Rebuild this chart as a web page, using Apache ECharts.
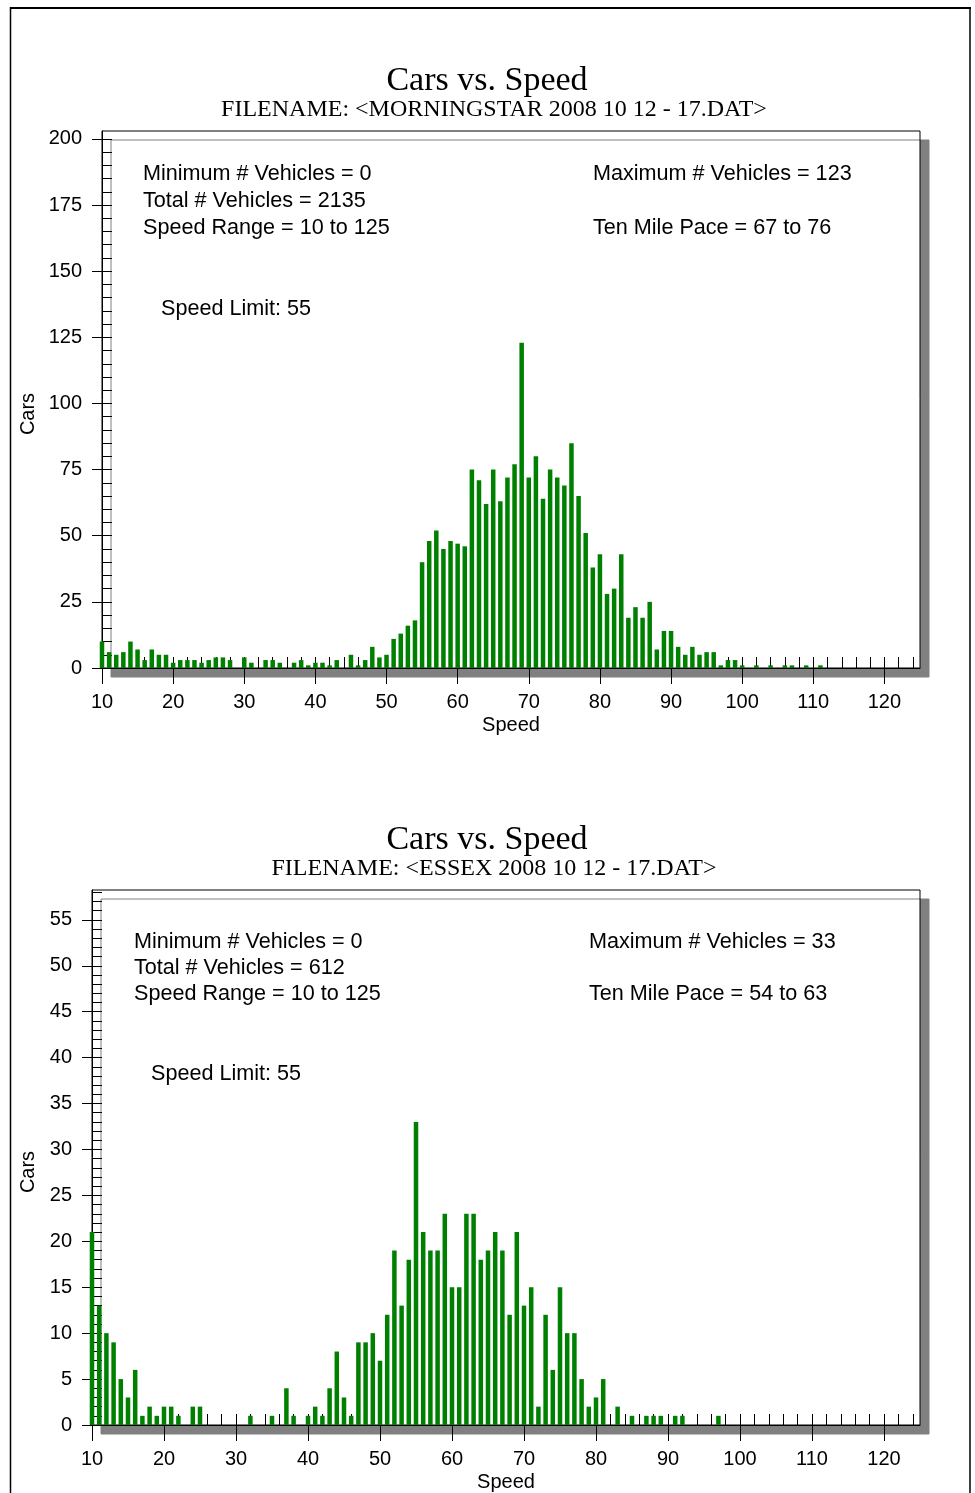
<!DOCTYPE html>
<html><head><meta charset="utf-8">
<script src="https://cdn.jsdelivr.net/npm/echarts@6/dist/echarts.min.js"></script>
<style>html,body{margin:0;padding:0;background:#fff}#c{width:975px;height:1493px}</style>
</head><body><div id="c"></div><script>
// Speed categories (mph)
const speeds = [10,11,12,13,14,15,16,17,18,19,20,21,22,23,24,25,26,27,28,29,30,31,32,33,34,35,36,37,38,39,
  40,41,42,43,44,45,46,47,48,49,50,51,52,53,54,55,56,57,58,59,60,61,62,63,64,65,66,67,68,69,
  70,71,72,73,74,75,76,77,78,79,80,81,82,83,84,85,86,87,88,89,90,91,92,93,94,95,96,97,98,99,
  100,101,102,103,104,105,106,107,108,109,110,111,112,113,114,115,116,117,118,119,120,121,122,123,124,125];
// Cars per speed — MORNINGSTAR
const carsMorningstar = [10,6,5,6,10,7,3,7,5,5, 2,3,3,3,2,3,4,4,3,0, 4,2,0,3,3,2,0,2,3,1,
  2,2,1,3,0,5,1,3,8,4, 5,11,13,16,18,40,48,52,45,48, 47,46,75,71,62,75,63,72,77,123,
  72,80,64,75,72,69,85,65,51,38, 43,28,30,43,19,23,19,25,7,14, 14,8,5,8,5,6,6,1,3,3,
  1,0,1,0,1,0,1,1,0,1, 0,1,0,0,0,0,0,0,0,0, 0,0,0,0,0,0];
// Cars per speed — ESSEX
const carsEssex = [21,13,10,9,5,3,6,1,2,1, 2,2,1,0,2,2,0,0,0,0, 0,0,1,0,0,1,0,4,1,0,
  1,2,1,4,8,3,1,9,9,10, 7,12,19,13,18,33,21,19,19,23, 15,15,23,23,18,19,21,19,12,21,
  13,15,2,12,6,15,10,10,5,2, 3,5,0,2,0,1,0,1,1,1, 0,1,1,0,0,0,0,1,0,0,
  0,0,0,0,0,0,0,0,0,0, 0,0,0,0,0,0,0,0,0,0, 0,0,0,0,0,0];
// Tick labels / tick positions
const xTickLabels = [10,20,30,40,50,60,70,80,90,100,110,120];
const xMinorTicks = [10,12,14,16,18,20,22,24,26,28,30,32,34,36,38,40,42,44,46,48,50,52,54,56,58,60,62,64,66,68,
  70,72,74,76,78,80,82,84,86,88,90,92,94,96,98,100,102,104,106,108,110,112,114,116,118,120,122,124];
const yTickLabelsTop = [0,25,50,75,100,125,150,175,200];
const yMinorTop = [0,5,10,15,20,25,30,35,40,45,50,55,60,65,70,75,80,85,90,95,100,105,110,115,120,125,130,135,140,145,150,155,160,165,170,175,180,185,190,195,200];
const yTickLabelsBottom = [0,5,10,15,20,25,30,35,40,45,50,55];
const yMinorBottom = [0,1,2,3,4,5,6,7,8,9,10,11,12,13,14,15,16,17,18,19,20,21,22,23,24,25,26,27,28,29,30,31,32,33,34,35,36,37,38,39,40,41,42,43,44,45,46,47,48,49,50,51,52,53,54,55,56,57,58];
// Texts
const titleText = 'Cars vs. Speed';
const fileTop = 'FILENAME: <MORNINGSTAR 2008 10 12 - 17.DAT>';
const fileBottom = 'FILENAME: <ESSEX 2008 10 12 - 17.DAT>';
const statsTop = ['Minimum # Vehicles = 0','Total # Vehicles = 2135','Speed Range = 10 to 125','Maximum # Vehicles = 123','Ten Mile Pace = 67 to 76','Speed Limit: 55'];
const statsBottom = ['Minimum # Vehicles = 0','Total # Vehicles = 612','Speed Range = 10 to 125','Maximum # Vehicles = 33','Ten Mile Pace = 54 to 63','Speed Limit: 55'];

const SANS = 'Liberation Sans, Arial, sans-serif';
const SERIF = 'Liberation Serif, Times New Roman, serif';
const chart = echarts.init(document.getElementById('c'), null, {renderer:'canvas'});

function gridOpt(left, top, bottom){
  return {left:left, right:55, top:top, bottom:bottom, show:true, backgroundColor:'#fff',
    borderColor:'#000', borderWidth:1, shadowColor:'#808080', shadowOffsetX:9, shadowOffsetY:9, shadowBlur:0};
}
function xMain(gi){
  return {gridIndex:gi, type:'value', min:10, max:125, interval:10, position:'bottom',
    axisLine:{show:true, onZero:false, lineStyle:{color:'#000', width:1}},
    axisTick:{show:true, inside:false, length:16, customValues:xTickLabels, lineStyle:{color:'#000', width:1}},
    axisLabel:{show:true, customValues:xTickLabels, margin:24, fontSize:20, fontFamily:SANS, color:'#000'},
    splitLine:{show:false},
    name:'Speed', nameLocation:'middle', nameGap:47, nameTextStyle:{fontSize:20, fontFamily:SANS, color:'#000'}};
}
function xMinor(gi){
  return {gridIndex:gi, type:'value', min:10, max:125, interval:2, position:'bottom',
    axisLine:{show:false}, axisLabel:{show:false}, splitLine:{show:false},
    axisTick:{show:true, inside:true, length:11, customValues:xMinorTicks, lineStyle:{color:'#000', width:1}}};
}
function yMain(gi, max, interval, labels){
  return {gridIndex:gi, type:'value', min:0, max:max, interval:interval, position:'left',
    axisLine:{show:true, onZero:false, lineStyle:{color:'#000', width:1}},
    axisTick:{show:true, inside:false, length:10, customValues:labels, lineStyle:{color:'#000', width:1}},
    axisLabel:{show:true, customValues:labels, margin:20, fontSize:20, fontFamily:SANS, color:'#000'},
    splitLine:{show:false}};
}
function yMinor(gi, max, interval, ticks){
  return {gridIndex:gi, type:'value', min:0, max:max, interval:interval, position:'left',
    axisLine:{show:false}, axisLabel:{show:false}, splitLine:{show:false},
    axisTick:{show:true, inside:true, length:10, customValues:ticks, lineStyle:{color:'#000', width:1}}};
}
function txt(x, y, s, size, family, align){
  return {type:'text', x:x, y:y, silent:true, z:100,
    style:{text:s, fill:'#000', font:size+'px '+family, textAlign:align||'left', textVerticalAlign:'middle'}};
}
function statTexts(list, xl, xr, y0, dy, xs, ys){
  const f = 21.6;
  return [txt(xl, y0, list[0], f, SANS), txt(xl, y0+dy, list[1], f, SANS), txt(xl, y0+2*dy, list[2], f, SANS),
    txt(xr, y0, list[3], f, SANS), txt(xr, y0+2*dy, list[4], f, SANS), txt(xs, ys, list[5], f, SANS)];
}

const graphics = [
  {type:'line', shape:{x1:10, y1:8, x2:971, y2:8}, style:{stroke:'#000', lineWidth:2}, silent:true},
  {type:'line', shape:{x1:10.5, y1:7, x2:10.5, y2:1493}, style:{stroke:'#000', lineWidth:1.5}, silent:true},
  {type:'line', shape:{x1:970, y1:7, x2:970, y2:1493}, style:{stroke:'#000', lineWidth:1.5}, silent:true},
  txt(487, 81.5, titleText, 34, SERIF, 'center'),
  txt(494, 110, fileTop, 24, SERIF, 'center'),
  txt(487, 840.5, titleText, 34, SERIF, 'center'),
  txt(494, 869, fileBottom, 24, SERIF, 'center'),
  {type:'text', x:28, y:414, rotation:Math.PI/2, silent:true, z:100,
    style:{text:'Cars', fill:'#000', font:'20px '+SANS, textAlign:'center', textVerticalAlign:'middle'}},
  {type:'text', x:28, y:1172, rotation:Math.PI/2, silent:true, z:100,
    style:{text:'Cars', fill:'#000', font:'20px '+SANS, textAlign:'center', textVerticalAlign:'middle'}}
].concat(statTexts(statsTop, 143, 593, 174, 27, 161, 309))
 .concat(statTexts(statsBottom, 134, 589, 942, 26, 151, 1074));

chart.setOption({
  animation:false,
  backgroundColor:'#fff',
  grid:[gridOpt(102, 131, 825), gridOpt(92, 890, 66)],
  xAxis:[xMain(0), xMinor(0), xMain(1), xMinor(1)],
  yAxis:[yMain(0, 203, 25, yTickLabelsTop), yMinor(0, 203, 5, yMinorTop),
         yMain(1, 58.25, 5, yTickLabelsBottom), yMinor(1, 58.25, 1, yMinorBottom)],
  graphic:graphics,
  series:[
    {type:'bar', name:'MORNINGSTAR', xAxisIndex:0, yAxisIndex:0, barWidth:4.5, clip:true,
     itemStyle:{color:'#008000'}, data:speeds.map((s,i)=>[s, carsMorningstar[i]])},
    {type:'bar', name:'ESSEX', xAxisIndex:2, yAxisIndex:2, barWidth:4.5, clip:true,
     itemStyle:{color:'#008000'}, data:speeds.map((s,i)=>[s, carsEssex[i]])}
  ]
});
</script></body></html>
